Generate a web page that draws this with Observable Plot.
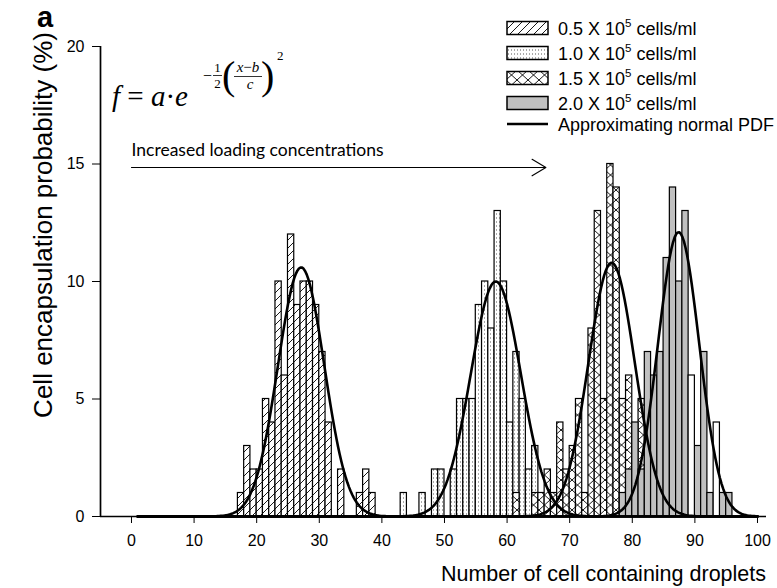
<!DOCTYPE html>
<html><head><meta charset="utf-8">
<script src="https://cdn.jsdelivr.net/npm/d3@7"></script>
<script src="https://cdn.jsdelivr.net/npm/@observablehq/plot@0.6"></script>
<style>body{margin:0;background:#fff}</style>
</head><body><div id="chart"></div>
<script>
// ---- data (bin start, percent) ----
const xTicks = [0,10,20,30,40,50,60,70,80,90,100];
const yTicks = [0,5,10,15,20];
const bins05 = [17,18,19,20,21,22,23,24,25,26,27,28,29,30,31,33,36,37,38];
const vals05 = [1,3,2,2,5,4,10,6,12,9,10,10,9,7,4,2,1,2,1];
const bins10 = [43,46,48,49,51,52,53,54,55,56,57,58,59,60,61,62,63,64];
const vals10 = [1,1,2,2,2,5,5,5,9,10,8,13,10,4,7,5,2,3];
const bins15 = [61,64,65,66,67,68,69,70,71,72,73,74,75,76,77,78,79,80,81,82];
const vals15 = [1,1,1,2,1,4,2,3,5,1,8,13,5,15,14,5,6,3,5,2];
const bins20 = [78,79,80,81,82,83,84,85,86,87,88,89,90,91,92,93,94,95];
const vals20 = [1,2,4,2,7,6,7,11,14,10,13,6,3,7,1,4,1,1];
const unfilled20 = [89,93];
// fitted normal PDF parameters f = a*exp(-1/2((x-b)/c)^2)
const curveA = [10.6, 10.0, 10.8, 12.1];
const curveB = [27.1, 58.2, 76.7, 87.4];
const curveC = [3.7, 4.0, 3.7, 3.3];
const seriesLabels = ["0.5 X 10", "1.0 X 10", "1.5 X 10", "2.0 X 10"];
const arrowSpan = [{x1: 0, x2: 66.2, y: 14.85}];
const arrowText = [{x: 0, y: 15.6, t: "Increased loading concentrations"}];

const rows = (b, v) => b.map((x, i) => ({x, v: v[i]}));
const d05 = rows(bins05, vals05), d10 = rows(bins10, vals10), d15 = rows(bins15, vals15), d20 = rows(bins20, vals20);
const curveX = d3.range(1, 100.001, 0.25);
const curves = curveA.flatMap((a, k) => curveX.map(x => ({k, x, y: a * Math.exp(-0.5 * ((x - curveB[k]) / curveC[k]) ** 2)})));

const barOpts = (fill) => ({x1: "x", x2: d => d.x + 1, y1: 0, y2: "v", fill, stroke: "black", strokeWidth: 1.2, inset: 0});

const plot = Plot.plot({
  width: 777, height: 588,
  marginLeft: 100, marginRight: 11, marginTop: 46, marginBottom: 72,
  style: {fontFamily: "'Liberation Sans', Arial, sans-serif", fontSize: "16px", color: "black", background: "white"},
  x: {domain: [-4.95, 101.44], ticks: xTicks, tickSize: 7, tickPadding: 11, label: null},
  y: {domain: [0, 20], ticks: yTicks, tickSize: 8, tickPadding: 8, label: null},
  marks: [
    Plot.rect(d05, barOpts("url(#pHatch)")),
    Plot.rect(d10, barOpts("url(#pDots)")),
    Plot.rect(d15, barOpts("url(#pCross)")),
    Plot.rect(d20.filter(d => !unfilled20.includes(d.x)), barOpts("#c0c0c0")),
    Plot.rect(d20.filter(d => unfilled20.includes(d.x)), barOpts("white")),
    Plot.line(curves, {x: "x", y: "y", z: "k", stroke: "black", strokeWidth: 2.6}),
    Plot.ruleY([0], {stroke: "black", strokeWidth: 1.7}),
    Plot.ruleX([-4.95], {stroke: "black", strokeWidth: 1.7}),
    Plot.arrow(arrowSpan, {x1: "x1", x2: "x2", y1: "y", y2: "y", stroke: "black", strokeWidth: 1.1, headAngle: 62, headLength: 22}),
    Plot.text(arrowText, {x: "x", y: "y", text: "t", textAnchor: "start", fontFamily: "Lato, 'Open Sans', sans-serif", fontSize: 17.5, fill: "black"})
  ]
});
document.getElementById("chart").appendChild(plot);

const svg = d3.select(plot);
const defs = svg.insert("defs", ":first-child");
const p1 = defs.append("pattern").attr("id", "pHatch").attr("patternUnits", "userSpaceOnUse").attr("width", 8).attr("height", 8);
p1.append("rect").attr("width", 8).attr("height", 8).attr("fill", "white");
p1.append("path").attr("d", "M-2,2L2,-2M0,8L8,0M6,10L10,6").attr("stroke", "black").attr("stroke-width", 0.9);
const p2 = defs.append("pattern").attr("id", "pDots").attr("patternUnits", "userSpaceOnUse").attr("width", 3).attr("height", 4);
p2.append("rect").attr("width", 3).attr("height", 4).attr("fill", "white");
p2.append("rect").attr("x", 1).attr("y", 1.5).attr("width", 1).attr("height", 1).attr("fill", "#555");
const p3 = defs.append("pattern").attr("id", "pCross").attr("patternUnits", "userSpaceOnUse").attr("width", 11).attr("height", 10);
p3.append("rect").attr("width", 11).attr("height", 10).attr("fill", "white");
p3.append("path").attr("d", "M0,0L11,10M11,0L0,10").attr("stroke", "black").attr("stroke-width", 0.9);

const sans = "'Liberation Sans', Arial, sans-serif";
// panel letter
svg.append("text").attr("x", 37).attr("y", 27).attr("text-anchor", "start").attr("font-family", sans)
  .attr("font-weight", "bold").attr("font-size", 29).attr("fill", "black").text("a");

// axis titles
svg.append("text").attr("transform", "translate(52,32) rotate(-90)").attr("text-anchor", "end")
  .attr("font-family", sans).attr("font-size", 26).attr("fill", "black")
  .text("Cell encapsulation probability (%)");
svg.append("text").attr("x", 766).attr("y", 581).attr("text-anchor", "end")
  .attr("font-family", sans).attr("font-size", 21.5).attr("fill", "black")
  .text("Number of cell containing droplets");

// legend
const legendFills = ["url(#pHatch)", "url(#pDots)", "url(#pCross)", "#c0c0c0"];
const legendY = [28, 53, 78, 103];
const lg = svg.append("g").attr("font-family", sans).attr("fill", "black").attr("text-anchor", "start");
seriesLabels.forEach((lab, i) => {
  const cy = legendY[i];
  lg.append("rect").attr("x", 507).attr("y", cy - 6.5).attr("width", 41).attr("height", 13)
    .attr("fill", legendFills[i]).attr("stroke", "black").attr("stroke-width", 1.5);
  const t = lg.append("text").attr("x", 558).attr("y", cy + 6.5).attr("font-size", 18);
  t.append("tspan").text(lab);
  t.append("tspan").attr("dy", -8).attr("font-size", 11.5).text("5");
  t.append("tspan").attr("dy", 8).text(" cells/ml");
});
lg.append("line").attr("x1", 507).attr("x2", 548).attr("y1", 124).attr("y2", 124).attr("stroke", "black").attr("stroke-width", 2.6);
lg.append("text").attr("x", 558).attr("y", 130.5).attr("font-size", 18).text("Approximating normal PDF");

// formula
const fg = svg.append("g").attr("font-family", "'Liberation Serif', 'Times New Roman', serif").attr("fill", "black").attr("text-anchor", "start");
const f1 = fg.append("text").attr("x", 112).attr("y", 106).attr("font-size", 29);
f1.append("tspan").attr("font-style", "italic").text("f");
f1.append("tspan").text(" = ");
f1.append("tspan").attr("font-style", "italic").text("a");
f1.append("tspan").text("\u00B7");
f1.append("tspan").attr("font-style", "italic").text("e");
fg.append("text").attr("x", 203).attr("y", 81).attr("font-size", 16).text("\u2212");
fg.append("text").attr("x", 217.5).attr("y", 72).attr("text-anchor", "middle").attr("font-size", 13).text("1");
fg.append("line").attr("x1", 213).attr("x2", 222).attr("y1", 75.5).attr("y2", 75.5).attr("stroke", "black").attr("stroke-width", 0.8);
fg.append("text").attr("x", 217.5).attr("y", 88).attr("text-anchor", "middle").attr("font-size", 13).text("2");
fg.append("text").attr("x", 222).attr("y", 89).attr("font-size", 40).text("(");
const num = fg.append("text").attr("x", 248).attr("y", 72).attr("text-anchor", "middle").attr("font-size", 15);
num.append("tspan").attr("font-style", "italic").text("x");
num.append("tspan").text("\u2212");
num.append("tspan").attr("font-style", "italic").text("b");
fg.append("line").attr("x1", 234).attr("x2", 262).attr("y1", 76.5).attr("y2", 76.5).attr("stroke", "black").attr("stroke-width", 0.8);
fg.append("text").attr("x", 250).attr("y", 89).attr("text-anchor", "middle").attr("font-size", 15).attr("font-style", "italic").text("c");
fg.append("text").attr("x", 261).attr("y", 89).attr("font-size", 40).text(")");
fg.append("text").attr("x", 277).attr("y", 60).attr("font-size", 13).text("2");
</script>
</body></html>
